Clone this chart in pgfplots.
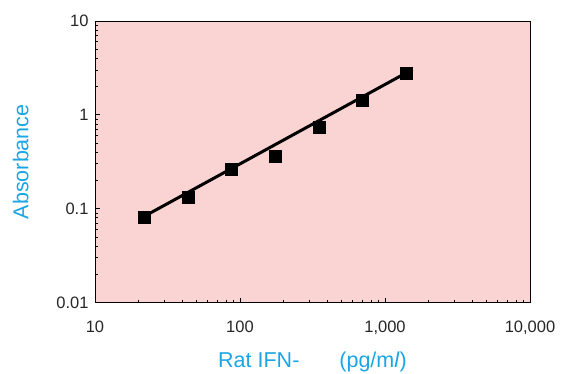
\documentclass[border=0pt]{standalone}
\usepackage{fontspec}
\setmainfont{Liberation Sans}
\usepackage{pgfplots}
\pgfplotsset{compat=1.18}
\definecolor{bgpink}{HTML}{F9D4D3}
\definecolor{labcyan}{HTML}{1AA5E6}
\begin{document}
\begin{tikzpicture}[x=1pt,y=1pt]
\path[use as bounding box] (0,0) rectangle (562,373);
\begin{axis}[
  at={(95pt,70.5pt)}, anchor=south west,
  scale only axis, width=435pt, height=281.5pt,
  xmode=log, ymode=log,
  xmin=10, xmax=10000, ymin=0.01, ymax=10,
  axis background/.style={fill=bgpink},
  axis line style={black, line width=0.8pt},
  xtick={10,100,1000,10000},
  xticklabels={10,100,{1,000},{10,000}},
  ytick={0.01,0.1,1,10},
  yticklabels={0.01,0.1,1,10},
  minor tick num=0,
  minor xtick={}, minor ytick={},
  tick align=inside,
  xtick pos=bottom, ytick pos=left,
  major tick length=5pt,
  tick style={black, line width=0.8pt},
  ticklabel style={font=\fontsize{16.5}{18}\selectfont, text=black!85},
  xticklabel style={yshift=-15pt},
  yticklabel style={xshift=-3pt},
  xlabel={Rat IFN-\hspace{40pt}(pg/m\textit{l})},
  ylabel={Absorbance},
  label style={font=\fontsize{21.5}{24}\selectfont, text=labcyan},
  xlabel style={yshift=-10pt},
  ylabel style={yshift=21pt},
  clip=false,
]
\addplot[black, line width=3pt, no marks] coordinates {(21.9,0.083) (1400,2.8)};
\addplot[only marks, mark=square*, mark size=6pt, mark options={fill=black, draw=black}]
  coordinates {
  (21.9,0.082) (43.75,0.134) (87.5,0.264) (175,0.363) (350,0.745) (700,1.43) (1400,2.78)
  };
\end{axis}
\end{tikzpicture}
\end{document}
